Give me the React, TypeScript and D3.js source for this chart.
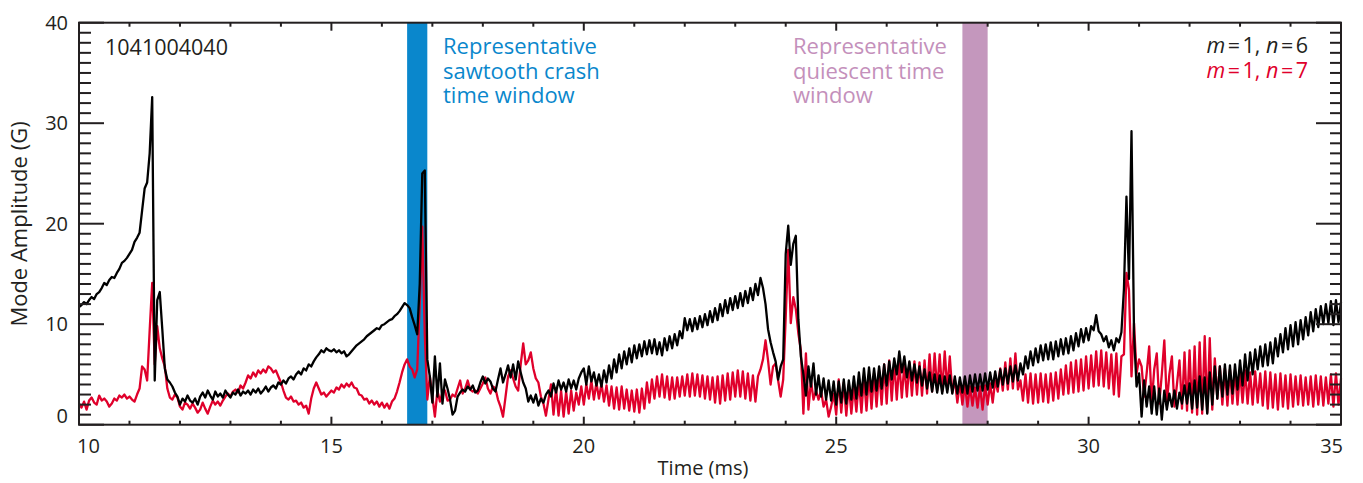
import React from "react";
import * as d3 from "d3";

// time grid: samples every 0.05 ms starting at each segment start
const T_START = 10;
const T_STEP = 0.05;

// m=1, n=6 (black) mode amplitude in G
const black10to15 = [
  11.7, 11.9, 12.2, 12.0, 12.4, 12.7, 12.5, 13.0, 13.2, 13.6,
  14.1, 13.9, 14.4, 14.7, 14.6, 15.1, 15.5, 16.1, 16.3, 16.6,
  17.0, 17.4, 18.2, 18.6, 19.1, 21.3, 23.5, 24.1, 27.0, 32.6,
  4.4, 12.4, 13.2, 9.5, 5.6, 4.5, 4.2, 3.8, 3.2, 2.8,
  2.0, 2.6, 2.3, 2.9, 2.4, 2.2, 2.6, 2.0, 2.8, 3.2,
  2.7, 3.4, 2.9, 2.5, 3.3, 2.8, 3.1, 2.7, 3.4, 3.0,
  2.7, 3.2, 3.0, 3.5, 2.9, 3.3, 3.1, 3.4, 3.0, 3.5,
  3.2, 3.6, 3.1, 3.4, 3.8, 3.3, 3.7, 3.9, 3.6, 4.2,
  4.0, 4.4, 4.1, 4.6, 4.8, 4.5, 5.0, 5.3, 5.0, 5.6,
  5.4, 6.0, 5.8, 6.3, 6.7, 7.0, 7.4, 7.2, 7.6, 7.4,
];
const black15to20 = [
  7.3, 7.5, 7.2, 7.4, 7.1, 7.3, 6.8, 7.0, 7.3, 7.6,
  7.9, 8.1, 8.3, 8.5, 8.8, 9.0, 9.2, 9.4, 9.6, 9.5,
  9.9, 10.0, 10.2, 10.4, 10.5, 10.8, 11.0, 11.3, 11.7, 12.1,
  11.9, 11.6, 10.7, 9.9, 9.0, 14.0, 25.0, 25.3, 6.5, 4.8,
  2.2, 6.8, 2.8, 6.1, 2.1, 4.5, 3.6, 2.5, 1.0, 1.4,
  2.8, 3.2, 3.5, 3.3, 3.8, 3.5, 3.9, 3.2, 3.4, 4.2,
  4.8, 4.1, 4.6, 4.3, 3.6, 3.3, 4.5, 5.6, 4.2, 5.0,
  5.9, 4.7, 6.0, 4.5, 6.3, 5.2, 4.2, 3.6, 2.3, 2.9,
  2.2, 3.0, 1.9, 2.6, 2.2, 3.0, 3.4, 2.8, 4.1, 3.2,
  4.4, 3.5, 4.2, 3.3, 4.5, 3.6, 4.4, 3.5, 4.6, 5.2,
];
const black20to25 = [
  5.6, 4.0, 5.8, 4.3, 5.2, 3.9, 5.0, 3.8, 5.4, 4.2,
  5.9, 4.6, 6.5, 5.2, 7.0, 5.6, 7.3, 6.0, 7.6, 6.2,
  7.9, 6.6, 8.0, 6.8, 8.3, 7.0, 8.4, 7.1, 8.5, 7.0,
  8.2, 6.9, 8.6, 7.4, 8.8, 7.6, 9.0, 7.9, 9.3, 8.6,
  10.6, 9.4, 10.5, 9.3, 10.6, 9.5, 10.8, 9.7, 11.0, 9.9,
  11.3, 10.2, 11.6, 10.4, 12.0, 10.8, 12.4, 11.1, 12.6, 11.4,
  12.8, 11.6, 13.1, 11.8, 13.3, 12.1, 13.6, 12.4, 14.0, 12.9,
  14.6, 13.6, 12.0, 9.5, 8.2, 7.2, 6.3, 4.5, 5.8, 6.5,
  17.0, 19.8, 15.9, 18.0, 18.8, 10.5, 6.8, 5.0, 2.9, 5.8,
  3.8, 6.1, 3.0, 4.9, 2.8, 4.6, 2.5, 4.4, 2.4, 4.3,
];
const black25to30 = [
  2.0, 4.3, 2.2, 4.5, 2.1, 4.4, 2.5, 4.8, 2.6, 5.2,
  2.9, 5.6, 3.0, 5.7, 3.3, 5.6, 3.4, 5.8, 3.6, 6.0,
  3.9, 6.3, 4.5, 6.6, 5.0, 7.3, 5.2, 6.8, 4.7, 6.3,
  4.4, 6.0, 4.2, 5.8, 3.9, 5.5, 3.6, 5.2, 3.3, 5.0,
  3.2, 4.9, 3.1, 4.8, 3.2, 4.9, 3.1, 4.8, 3.1, 4.7,
  3.2, 4.8, 3.1, 4.9, 3.3, 5.0, 3.4, 5.0, 3.4, 5.1,
  3.5, 5.2, 3.7, 5.3, 3.8, 5.5, 4.0, 5.6, 4.1, 5.8,
  4.3, 5.9, 4.4, 6.1, 5.0, 6.8, 5.6, 7.3, 5.9, 7.6,
  6.2, 7.9, 6.4, 8.0, 6.5, 8.2, 6.5, 8.3, 6.8, 8.5,
  7.0, 8.6, 7.1, 8.8, 7.4, 9.1, 7.8, 9.5, 8.2, 9.6,
];
const black30to35 = [
  8.4, 9.8, 9.4, 10.9, 9.3, 9.0, 8.3, 8.8, 7.7, 8.4,
  7.4, 8.6, 8.2, 9.2, 13.5, 22.7, 14.5, 29.2, 9.0, 3.8,
  5.1, 0.8, 4.4, 1.8, 3.8, 1.1, 3.8, 1.0, 3.6, 0.5,
  3.4, 1.5, 3.1, 1.8, 3.4, 1.6, 3.2, 2.1, 3.9, 2.1,
  4.1, 1.6, 4.4, 1.7, 4.8, 1.5, 4.7, 1.1, 5.2, 2.0,
  5.8, 2.6, 5.8, 2.8, 6.0, 3.0, 5.9, 3.1, 6.0, 3.5,
  6.4, 3.9, 7.0, 4.4, 7.2, 5.0, 7.5, 5.5, 7.8, 5.8,
  8.0, 5.9, 8.2, 6.1, 8.6, 6.8, 9.0, 7.2, 9.6, 7.5,
  9.9, 7.8, 10.2, 8.0, 10.4, 8.5, 10.7, 8.9, 11.2, 9.3,
  11.5, 9.7, 11.8, 10.0, 12.0, 10.1, 12.3, 9.9, 12.4, 10.2,
  12.2,
];

// m=1, n=7 (red) mode amplitude in G
const red10to15 = [
  2.1, 1.7, 2.3, 1.5, 2.4, 2.7, 2.2, 2.0, 2.9, 2.4,
  2.6, 2.3, 1.8, 2.1, 2.6, 2.4, 2.9, 2.7, 3.0, 2.6,
  2.8, 2.5, 2.3, 3.0, 3.6, 5.8, 5.5, 4.4, 9.4, 14.1,
  6.0, 9.8, 7.6, 6.6, 5.8, 3.6, 2.7, 2.5, 3.0, 2.7,
  1.8, 1.5, 2.2, 2.0, 1.6, 2.1, 1.7, 1.2, 1.5, 2.2,
  1.6, 1.1, 1.8, 2.4, 2.0, 2.3, 1.9, 2.4, 2.8, 3.1,
  2.8, 3.3, 3.5, 3.2, 3.9, 3.6, 4.2, 4.9, 4.6, 5.2,
  4.8, 5.4, 5.1, 5.5, 5.2, 5.8, 5.6, 5.2, 5.4, 4.8,
  4.2, 3.4, 2.7, 2.5, 2.8, 2.3, 2.4, 2.0, 2.2, 1.7,
  1.9, 1.1, 2.6, 3.6, 4.2, 3.6, 3.0, 3.2, 2.8, 3.1,
];
const red15to20 = [
  3.4, 3.2, 3.7, 3.5, 4.0, 3.7, 4.1, 3.8, 4.2, 3.7,
  3.6, 3.0, 2.9, 2.5, 2.6, 2.1, 2.4, 2.0, 2.3, 1.8,
  2.2, 1.7, 2.1, 1.6, 2.3, 2.6, 3.3, 4.2, 5.2, 6.0,
  6.5, 5.8, 5.5, 4.7, 5.5, 12.0, 19.7, 9.0, 2.5, 4.8,
  2.8, 0.8, 3.4, 2.3, 3.2, 3.4, 2.4, 2.5, 3.0, 2.8,
  3.6, 4.4, 3.1, 3.6, 4.4, 3.5, 3.3, 3.4, 3.1, 3.6,
  4.1, 4.7, 3.6, 3.1, 3.8, 3.6, 2.5, 1.8, 0.8, 2.8,
  4.8, 5.4, 4.6, 3.8, 3.4, 6.0, 8.1, 6.0, 6.4, 7.2,
  5.6, 4.6, 4.2, 2.8, 2.1, 0.9, 2.5, 4.0, 1.0, 3.6,
  0.9, 3.4, 0.8, 3.3, 1.1, 3.4, 1.4, 3.2, 2.0, 3.8,
];
const red20to25 = [
  2.0, 4.0, 2.6, 4.4, 2.5, 4.2, 2.6, 4.1, 2.3, 3.9,
  1.9, 3.8, 1.6, 3.7, 1.5, 3.8, 1.6, 3.5, 1.4, 3.4,
  1.3, 3.5, 1.2, 3.6, 1.6, 4.2, 2.2, 4.5, 2.6, 4.8,
  2.8, 5.0, 2.7, 4.8, 2.5, 4.7, 2.6, 4.7, 2.8, 4.8,
  2.9, 5.0, 2.8, 5.1, 2.9, 5.0, 2.8, 4.9, 2.6, 4.8,
  2.5, 4.7, 2.2, 4.8, 2.1, 4.9, 2.4, 5.1, 2.5, 5.2,
  2.8, 5.4, 2.8, 5.3, 2.6, 5.1, 2.4, 4.9, 2.3, 4.8,
  5.5, 6.5, 8.4, 6.4, 4.0, 5.8, 6.1, 4.4, 2.8, 4.5,
  10.7, 17.4, 10.1, 12.7, 11.5, 9.1, 7.4, 1.1, 7.1, 1.5,
  4.4, 2.5, 3.4, 2.5, 3.4, 1.8, 2.5, 0.8, 1.8, 3.1,
];
const red25to30 = [
  1.0, 4.5, 1.2, 4.2, 0.9, 4.0, 1.1, 3.8, 1.3, 4.4,
  1.2, 4.8, 1.4, 5.0, 1.6, 5.1, 1.8, 5.4, 2.0, 6.0,
  2.1, 6.4, 2.4, 6.3, 2.5, 6.2, 2.7, 6.0, 2.8, 6.2,
  2.9, 6.3, 3.0, 6.2, 2.9, 6.4, 3.1, 7.0, 3.3, 7.1,
  3.4, 7.0, 3.3, 7.3, 3.5, 6.8, 3.2, 4.5, 2.2, 4.2,
  2.0, 4.0, 1.8, 3.8, 1.9, 3.7, 1.7, 3.8, 1.5, 3.9,
  2.0, 4.1, 2.2, 4.4, 3.3, 5.6, 3.4, 6.2, 3.5, 6.6,
  3.6, 7.1, 3.5, 4.4, 2.4, 5.0, 2.2, 5.1, 2.1, 5.0,
  2.2, 5.1, 2.3, 5.0, 2.2, 5.1, 2.4, 5.2, 2.6, 5.5,
  3.0, 5.9, 3.1, 6.2, 3.2, 6.4, 3.3, 6.5, 3.4, 6.8,
];
const red30to35 = [
  3.6, 6.9, 3.8, 7.3, 3.9, 7.4, 3.8, 7.2, 3.6, 7.0,
  3.0, 7.1, 2.8, 6.8, 7.0, 15.1, 13.4, 4.8, 10.1, 5.1,
  6.5, 5.8, 2.8, 5.1, 7.8, 2.1, 5.5, 7.1, 2.1, 5.0,
  8.4, 2.1, 5.0, 6.8, 1.8, 4.0, 6.4, 1.6, 7.2, 1.4,
  7.4, 1.2, 7.8, 1.0, 8.2, 1.1, 8.8, 1.2, 8.6, 1.5,
  6.6, 2.6, 5.8, 2.0, 5.6, 1.9, 5.5, 2.1, 5.4, 2.0,
  5.3, 2.2, 5.4, 2.1, 5.2, 2.0, 5.3, 2.2, 5.1, 1.9,
  5.3, 1.6, 5.2, 1.7, 5.0, 1.5, 5.1, 1.8, 4.9, 1.6,
  5.0, 1.8, 4.8, 2.0, 4.9, 1.9, 4.7, 2.0, 4.8, 1.8,
  4.9, 2.0, 4.8, 1.9, 4.7, 2.1, 5.0, 1.8, 5.1, 2.0,
  4.6,
];

const blackSeries = [...black10to15, ...black15to20, ...black20to25, ...black25to30, ...black30to35];
const redSeries = [...red10to15, ...red15to20, ...red20to25, ...red25to30, ...red30to35];

const xTickValues = [10, 15, 20, 25, 30, 35];
const xTickLabels = ["10", "15", "20", "25", "30", "35"];
const yTickValues = [0, 10, 20, 30, 40];
const yTickLabels = ["0", "10", "20", "30", "40"];

const crashWindow = [16.5, 16.9];
const quietWindow = [27.5, 28.0];

const shotLabel = "1041004040";
const crashText = ["Representative", "sawtooth crash", "time window"];
const quietText = ["Representative", "quiescent time", "window"];

const BLUE = "#0a87cc";
const PURPLE = "#c497bd";
const PURPLE_TEXT = "#c490bb";
const RED = "#e0002b";
const INK = "#231f20";

export default function App() {
  const L = 79, R = 1341, T = 22.7, B = 424.7;
  const x = d3.scaleLinear().domain([10, 35]).range([L, R]);
  const y = d3.scaleLinear().domain([0, 40]).range([B, T]);
  const line = d3
    .line<number>()
    .x((_, i) => x(T_START + i * T_STEP))
    .y((d) => y(d));

  const minorX = x.ticks(25);
  const minorY = y.ticks(40);
  const font = "'Open Sans', sans-serif";

  return (
    <svg
      width={1363}
      height={483}
      style={{ position: "absolute", left: 0, top: 0, background: "#fff" }}
      fontFamily={font}
    >
      <rect x={x(crashWindow[0])} y={T} width={x(crashWindow[1]) - x(crashWindow[0])} height={B - T} fill={BLUE} />
      <rect x={x(quietWindow[0])} y={T} width={x(quietWindow[1]) - x(quietWindow[0])} height={B - T} fill={PURPLE} />

      <path d={line(redSeries) || ""} fill="none" stroke={RED} strokeWidth={2.3} strokeLinejoin="round" />
      <path d={line(blackSeries) || ""} fill="none" stroke="#000" strokeWidth={2.3} strokeLinejoin="round" />

      {/* frame */}
      <rect x={L} y={T} width={R - L} height={B - T} fill="none" stroke={INK} strokeWidth={2} />

      {/* x ticks (bottom and top) */}
      {minorX.map((v) => {
        const major = xTickValues.includes(v);
        const len = major ? 8 : 4;
        return (
          <g key={"xt" + v}>
            <line x1={x(v)} x2={x(v)} y1={B} y2={B - len} stroke={INK} strokeWidth={2} />
            <line x1={x(v)} x2={x(v)} y1={T} y2={T + len} stroke={INK} strokeWidth={2} />
          </g>
        );
      })}
      {/* y ticks (left and right) */}
      {minorY.map((v) => {
        const major = yTickValues.includes(v);
        return (
          <g key={"yt" + v}>
            <line x1={L} x2={L + (major ? 25 : 12)} y1={y(v)} y2={y(v)} stroke={INK} strokeWidth={2} />
            <line x1={R} x2={R - (major ? 25 : 11)} y1={y(v)} y2={y(v)} stroke={INK} strokeWidth={2} />
          </g>
        );
      })}

      {/* x tick labels */}
      {xTickValues.map((v, i) => {
        const first = i === 0;
        const last = i === xTickValues.length - 1;
        return (
          <text
            key={"xl" + v}
            x={first ? x(v) - 2 : last ? x(v) + 2 : x(v)}
            y={453}
            fontSize={20}
            fill={INK}
            textAnchor={first ? "start" : last ? "end" : "middle"}
          >
            {xTickLabels[i]}
          </text>
        );
      })}
      {/* y tick labels */}
      {yTickValues.map((v, i) => (
        <text
          key={"yl" + v}
          x={68}
          y={(v === 0 ? y(v) - 8.5 : y(v)) + 7.2}
          fontSize={20}
          fill={INK}
          textAnchor="end"
        >
          {yTickLabels[i]}
        </text>
      ))}

      <text x={703} y={475} fontSize={20} fill={INK} textAnchor="middle">
        Time (ms)
      </text>
      <text
        transform={`translate(27,${224}) rotate(-90)`}
        fontSize={22}
        fill={INK}
        textAnchor="middle"
      >
        Mode Amplitude (G)
      </text>

      <text x={105} y={55} fontSize={21.5} fill={INK}>
        {shotLabel}
      </text>

      {crashText.map((s, i) => (
        <text key={"c" + i} x={443} y={54 + i * 24.5} fontSize={22} fill={BLUE}>
          {s}
        </text>
      ))}
      {quietText.map((s, i) => (
        <text key={"q" + i} x={793} y={54 + i * 24.5} fontSize={22} fill={PURPLE_TEXT}>
          {s}
        </text>
      ))}

      <text x={1308} y={53} fontSize={21.5} fill={INK} textAnchor="end">
        <tspan fontStyle="italic">m</tspan>
        <tspan dx={2.5}>=</tspan>
        <tspan dx={2.5}>1, </tspan>
        <tspan fontStyle="italic">n</tspan>
        <tspan dx={2.5}>=</tspan>
        <tspan dx={2.5}>6</tspan>
      </text>
      <text x={1308} y={78} fontSize={21.5} fill={RED} textAnchor="end">
        <tspan fontStyle="italic">m</tspan>
        <tspan dx={2.5}>=</tspan>
        <tspan dx={2.5}>1, </tspan>
        <tspan fontStyle="italic">n</tspan>
        <tspan dx={2.5}>=</tspan>
        <tspan dx={2.5}>7</tspan>
      </text>
    </svg>
  );
}
